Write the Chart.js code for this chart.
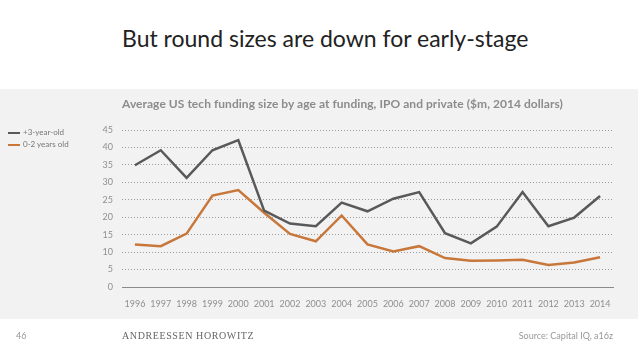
<!DOCTYPE html>
<html lang="en">
<head>
    <meta charset="UTF-8">
    <title>Round sizes</title>
    <style>
        body {
            margin: 0;
            width: 638px;
            height: 359px;
            position: relative;
            background: #fff;
            font-family: "Lato", sans-serif;
            overflow: hidden;
        }
        .title {
            position: absolute;
            left: 122px;
            top: 24px;
            font-size: 23px;
            color: #222;
            white-space: nowrap;
        }
        .band {
            position: absolute;
            left: 0;
            top: 89px;
            width: 638px;
            height: 230px;
            background: #f2f2f2;
        }
        .subtitle {
            position: absolute;
            left: 122px;
            top: 96px;
            font-size: 12px;
            font-weight: bold;
            color: #8c8c8c;
            letter-spacing: 0.05px;
            white-space: nowrap;
        }
        .legend {
            position: absolute;
            left: 8px;
            top: 126px;
            font-size: 8px;
            color: #777;
        }
        .legend div {
            height: 12px;
            line-height: 12px;
        }
        .legend span {
            display: inline-block;
            width: 12px;
            height: 2px;
            vertical-align: middle;
            margin-right: 3px;
        }
        #chart-box {
            position: absolute;
            left: 0;
            top: 0;
            width: 638px;
            height: 359px;
        }
        .foot {
            position: absolute;
            top: 330px;
            font-size: 9px;
            color: #999;
        }
        .brand {
            position: absolute;
            left: 122px;
            top: 330px;
            font-family: "Liberation Serif", serif;
            font-size: 10px;
            color: #666;
            letter-spacing: 0.6px;
            white-space: nowrap;
        }
    </style>
    <script src="https://cdn.jsdelivr.net/npm/chart.js"></script>
</head>
<body>
    <div class="title">But round sizes are down for early-stage</div>
    <div class="band"></div>
    <div id="chart-box"><canvas id="chart"></canvas></div>
    <div class="subtitle">Average US tech funding size by age at funding, IPO and private ($m, 2014 dollars)</div>
    <div class="legend">
        <div><span style="background:#58595b"></span>+3-year-old</div>
        <div><span style="background:#c8773b"></span>0-2 years old</div>
    </div>
    <div class="foot" style="left:16px">46</div>
    <div class="brand">ANDREESSEN HOROWITZ</div>
    <div class="foot" style="right:25px">Source: Capital IQ, a16z</div>

    <script>
        const years = ['1996', '1997', '1998', '1999', '2000', '2001', '2002', '2003', '2004', '2005',
                       '2006', '2007', '2008', '2009', '2010', '2011', '2012', '2013', '2014'];
        const olderCos = [34.9, 39.2, 31.3, 39.2, 42.1, 21.9, 18.2, 17.4, 24.2, 21.7,
                          25.3, 27.2, 15.4, 12.5, 17.3, 27.2, 17.4, 19.9, 26.1];
        const youngCos = [12.2, 11.7, 15.3, 26.2, 27.8, 21.3, 15.2, 13.1, 20.5, 12.2,
                          10.2, 11.7, 8.3, 7.5, 7.6, 7.8, 6.3, 7.0, 8.5];
        const yTicks = [0, 5, 10, 15, 20, 25, 30, 35, 40, 45];

        const tickFont = { family: 'Lato', size: 9 };

        new Chart(document.getElementById('chart'), {
            type: 'line',
            data: {
                labels: years,
                datasets: [
                    { label: '+3-year-old', data: olderCos, borderColor: '#58595b', borderWidth: 2.5, pointRadius: 0, tension: 0 },
                    { label: '0-2 years old', data: youngCos, borderColor: '#c8773b', borderWidth: 2.5, pointRadius: 0, tension: 0 }
                ]
            },
            options: {
                responsive: true,
                maintainAspectRatio: false,
                animation: false,
                layout: { padding: { left: 92, right: 25, top: 130, bottom: 52 } },
                plugins: { legend: { display: false }, tooltip: { enabled: false } },
                scales: {
                    x: {
                        offset: true,
                        grid: { display: false },
                        border: { display: true, color: '#8a8a8a', width: 1 },
                        ticks: { color: '#8f8f8f', font: tickFont, padding: 4, maxRotation: 0, autoSkip: false },
                        afterFit: s => { s.height = 20; }
                    },
                    y: {
                        min: 0,
                        max: 45,
                        afterBuildTicks: s => { s.ticks = yTicks.map(v => ({ value: v })); },
                        grid: { color: '#9a9a9a', lineWidth: 1, drawTicks: false },
                        border: { display: false, dash: [1, 2] },
                        ticks: { color: '#8f8f8f', font: tickFont, padding: 9 },
                        afterFit: s => { s.width = 30; }
                    }
                }
            }
        });
    </script>
</body>
</html>
